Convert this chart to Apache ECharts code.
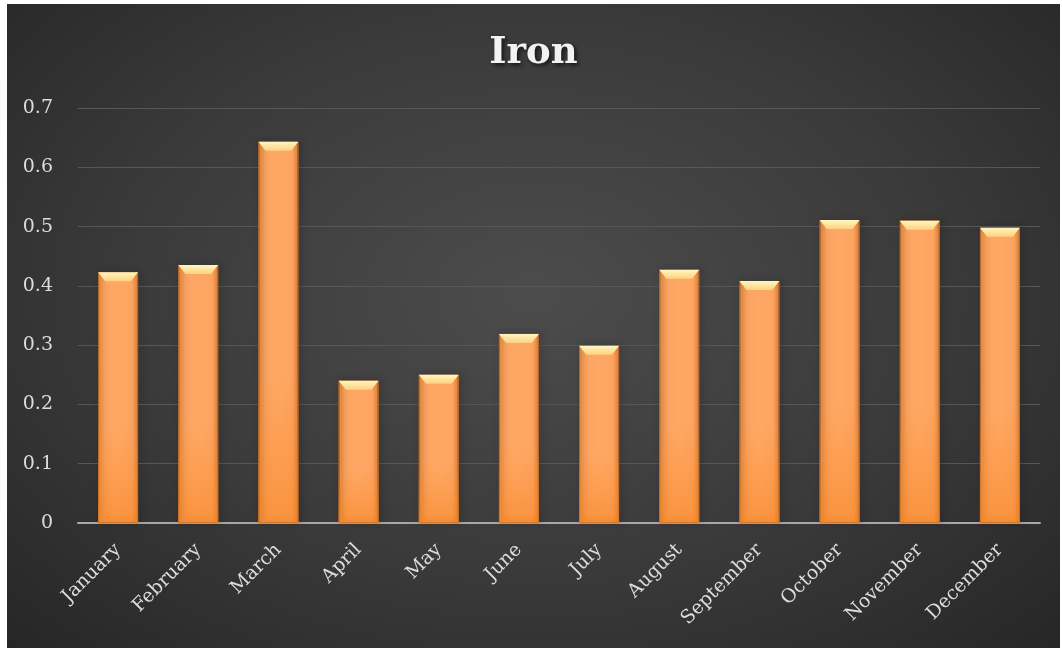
<!DOCTYPE html>
<html><head><meta charset="utf-8">
<script src="https://cdn.jsdelivr.net/npm/echarts@6/dist/echarts.min.js"></script>
<style>
html,body{margin:0;padding:0;background:#ffffff;width:1062px;height:651px;overflow:hidden;}
#c{position:absolute;left:7px;top:4px;width:1053px;height:644px;
background:radial-gradient(ellipse at 50% 45%, #4c4c4c 0%, #3a3a3a 55%, #262626 100%);}
</style></head>
<body><div id="c"></div>
<script>
const categories = ["January","February","March","April","May","June","July","August","September","October","November","December"];
const ironValues = [0.423,0.435,0.643,0.240,0.250,0.319,0.299,0.427,0.408,0.511,0.510,0.498];
const yTicks = [0,0.1,0.2,0.3,0.4,0.5,0.6,0.7];

const chart = echarts.init(document.getElementById('c'), null, {renderer:'canvas'});
const font = "'DejaVu Serif', 'Liberation Serif', serif";
chart.setOption({
  backgroundColor: 'transparent',
  title: {
    text: 'Iron', left: 'center', top: 26,
    textStyle: {color:'#f2f2f2', fontSize:37, fontWeight:'bold', fontFamily:font,
      textShadowColor:'rgba(0,0,0,0.7)', textShadowBlur:4, textShadowOffsetX:2, textShadowOffsetY:2}
  },
  grid: {left:71, right:20, top:104, bottom:125},
  xAxis: {
    type:'category', data: categories,
    axisLine:{lineStyle:{color:'#a8a8a8', width:2}},
    axisTick:{show:false},
    axisLabel:{color:'#dcdcdc', fontSize:19, fontFamily:font, rotate:45, margin:24, interval:0}
  },
  yAxis: {
    type:'value', min:0, max:0.7, interval:0.1,
    axisLine:{show:false}, axisTick:{show:false},
    axisLabel:{color:'#dcdcdc', fontSize:19, fontFamily:font, margin:25,
      formatter: v => { const t = yTicks.find(x => Math.abs(x-v)<1e-9); return t===0 ? '0' : String(+v.toFixed(1)); }},
    splitLine:{lineStyle:{color:'#575757', width:1}}
  },
  series: [
    {
      type:'bar', data: ironValues, barWidth:40,
      itemStyle:{
        color: new echarts.graphic.LinearGradient(0,0,1,0,[
          {offset:0,color:'#f3943c'},{offset:0.15,color:'#fda461'},{offset:0.5,color:'#fea865'},{offset:0.85,color:'#fda461'},{offset:1,color:'#ea8635'}]),
        borderColor:'#b8682a', borderWidth:1,
        shadowColor:'rgba(0,0,0,0.5)', shadowBlur:6, shadowOffsetX:2, shadowOffsetY:0
      },
      z:2
    },
    {
      type:'bar', data: ironValues, barWidth:40, barGap:'-100%',
      itemStyle:{color: new echarts.graphic.LinearGradient(0,0,0,1,[
        {offset:0,color:'rgba(255,140,40,0)'},{offset:0.6,color:'rgba(255,140,40,0)'},{offset:1,color:'rgba(245,130,30,0.55)'}])},
      silent:true, z:3
    },
    {
      type:'pictorialBar', data: ironValues,
      symbol:'path://M0,0 L10,0 L8.2,1 L1.8,1 Z',
      symbolSize:[40,9], symbolPosition:'end', symbolOffset:[0,0],
      itemStyle:{color: new echarts.graphic.LinearGradient(0,0,0,1,[
        {offset:0,color:'#fff6c0'},{offset:1,color:'#fdd27f'}])},
      silent:true, z:4
    }
  ]
});
</script></body></html>
